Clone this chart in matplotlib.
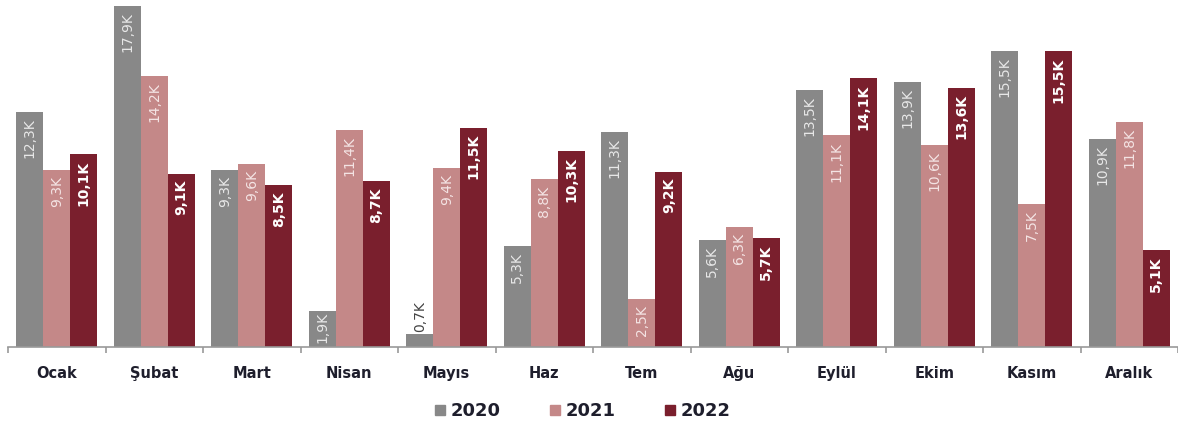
import numpy as np
import matplotlib.pyplot as plt
from matplotlib.lines import Line2D

months = ['Ocak', 'Şubat', 'Mart', 'Nisan', 'Mayıs', 'Haz', 'Tem', 'Ağu', 'Eylül', 'Ekim', 'Kasım', 'Aralık']
years = ['2020', '2021', '2022']
v2020 = [12.3, 17.9, 9.3, 1.9, 0.7, 5.3, 11.3, 5.6, 13.5, 13.9, 15.5, 10.9]
v2021 = [9.3, 14.2, 9.6, 11.4, 9.4, 8.8, 2.5, 6.3, 11.1, 10.6, 7.5, 11.8]
v2022 = [10.1, 9.1, 8.5, 8.7, 11.5, 10.3, 9.2, 5.7, 14.1, 13.6, 15.5, 5.1]

colors = ['#888888', '#C48888', '#7A1F2D']
label_colors = ['#E8E8E8', '#F4E4E4', 'white']
weights = ['normal', 'normal', 'bold']

fig = plt.figure(figsize=(11.78, 4.25), dpi=100)
ax = fig.add_axes([8 / 1178, 78 / 425, 1170 / 1178, 347 / 425])

x = np.arange(len(months))
w = 0.277
for i, vals in enumerate([v2020, v2021, v2022]):
    pos = x + (i - 1) * w
    ax.bar(pos, vals, width=w, color=colors[i], edgecolor='none')
    for px, v in zip(pos, vals):
        txt = f'{v:.1f}'.replace('.', ',') + 'K'
        if v < 1.5:
            ax.annotate(txt, (px, v), xytext=(0, 1), textcoords='offset points',
                        rotation=90, ha='center', va='bottom', fontsize=10,
                        color='#444444', fontweight=weights[i])
        else:
            off = -1 if v < 2.2 else -4.5
            ax.annotate(txt, (px, v), xytext=(0, off), textcoords='offset points',
                        rotation=90, ha='center', va='top', fontsize=10,
                        color=label_colors[i], fontweight=weights[i])

ax.set_xlim(-0.5, 11.5)
ax.set_ylim(0, 18.2)
for s in ['top', 'right', 'left']:
    ax.spines[s].set_visible(False)
ax.spines['bottom'].set_color('#999999')
ax.spines['bottom'].set_linewidth(1.2)
ax.set_yticks([])
ax.set_xticks(x)
ax.set_xticklabels(months, fontsize=10.5, fontweight='bold', color='#1E1E2C')
ax.tick_params(axis='x', which='major', length=0, pad=14)
ax.set_xticks(np.arange(-0.5, 12, 1), minor=True)
ax.tick_params(axis='x', which='minor', length=4, color='#999999', width=1.2)

handles = [Line2D([], [], marker='s', linestyle='none', markersize=7.5, color=c) for c in colors]
leg = fig.legend(handles, years, loc='center', bbox_to_anchor=(582 / 1178, 1 - 411 / 425), ncol=3,
                 frameon=False, prop={'weight': 'bold', 'size': 13}, columnspacing=2.6,
                 handletextpad=0.2, handlelength=0.8)
for t in leg.get_texts():
    t.set_color('#1E1E2C')

fig.savefig('out.png', dpi=100)
